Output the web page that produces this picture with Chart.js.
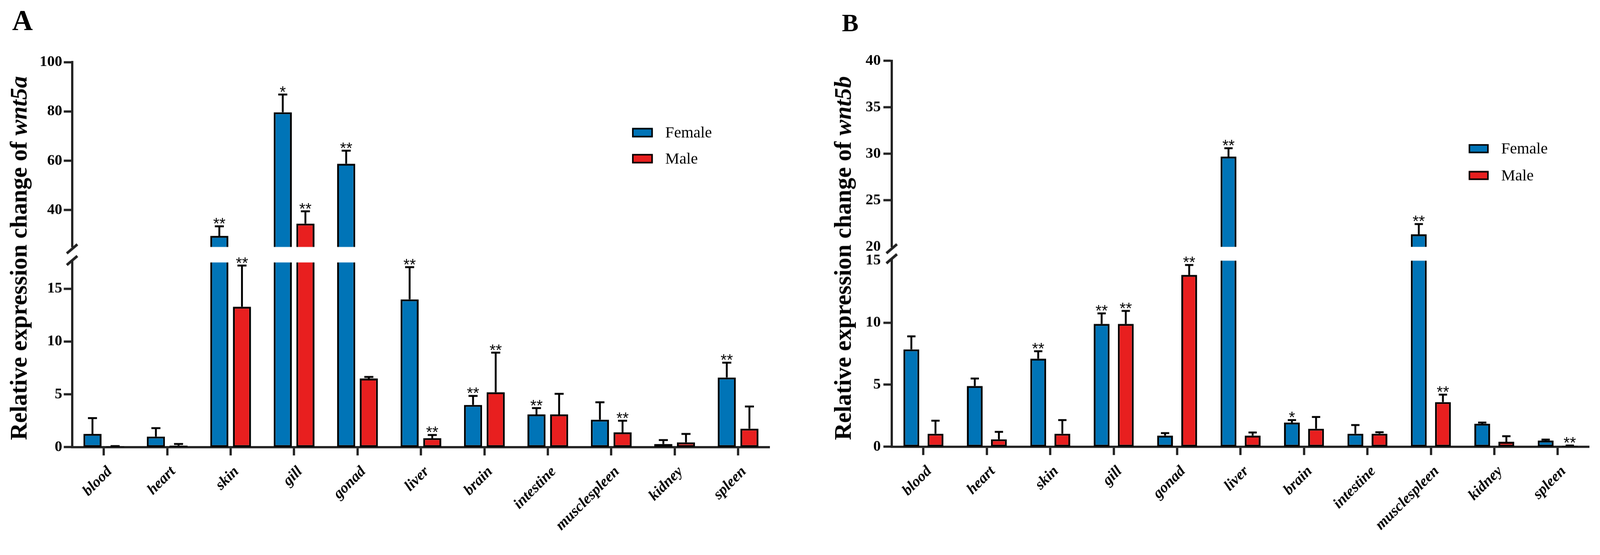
<!DOCTYPE html>
<html>
<head>
<meta charset="utf-8">
<script src="https://cdn.jsdelivr.net/npm/chart.js@4.4.1/dist/chart.umd.min.js"></script>
<style>
  html, body { margin: 0; padding: 0; background: #fff; overflow: hidden; }
  .panel { position: absolute; top: 0; }
</style>
</head>
<body>
<div class="panel" id="panelA"><canvas id="chartA" width="2120" height="1422"></canvas></div>
<div class="panel" id="panelB"><canvas id="chartB" width="2120" height="1422"></canvas></div>
<script>
const tissues = ['blood', 'heart', 'skin', 'gill', 'gonad', 'liver', 'brain', 'intestine', 'musclespleen', 'kidney', 'spleen'];
const seriesNames = ['Female', 'Male'];

// wnt5a (panel A)
const wnt5aFemale   = [1.25, 1.0, 29.5, 79.7, 58.8, 14.0, 4.0, 3.1, 2.6, 0.3, 6.6];
const wnt5aFemaleSd = [1.5, 0.8, 3.9, 7.2, 5.3, 3.05, 0.85, 0.6, 1.65, 0.37, 1.4];
const wnt5aMale     = [0.08, 0.15, 13.3, 34.5, 6.5, 0.85, 5.2, 3.1, 1.4, 0.45, 1.75];
const wnt5aMaleSd   = [0.02, 0.15, 3.9, 5.0, 0.15, 0.3, 3.75, 1.95, 1.1, 0.8, 2.1];
const wnt5aFemaleSig = ['', '', '**', '*', '**', '**', '**', '**', '', '', '**'];
const wnt5aMaleSig   = ['', '', '**', '**', '', '**', '**', '', '**', '', ''];

// wnt5b (panel B)
const wnt5bFemale   = [7.85, 4.9, 7.1, 9.9, 0.9, 29.7, 1.95, 1.05, 21.35, 1.85, 0.5];
const wnt5bFemaleSd = [1.05, 0.6, 0.6, 0.85, 0.2, 0.9, 0.2, 0.7, 1.1, 0.1, 0.08];
const wnt5bMale     = [1.05, 0.6, 1.05, 9.9, 13.85, 0.9, 1.45, 1.05, 3.6, 0.4, 0.08];
const wnt5bMaleSd   = [1.05, 0.6, 1.1, 1.05, 0.8, 0.25, 0.95, 0.12, 0.6, 0.45, 0.02];
const wnt5bFemaleSig = ['', '', '**', '**', '', '**', '*', '', '**', '', ''];
const wnt5bMaleSig   = ['', '', '', '**', '**', '', '', '', '**', '', '**'];

// broken y axes: lower / upper ranges and tick values
const wnt5aLowRange = [0, 17.5];
const wnt5aHighRange = [25, 100];
const wnt5aLowTicks = [0, 5, 10, 15];
const wnt5aHighTicks = [40, 60, 80, 100];
const wnt5bLowRange = [0, 15];
const wnt5bHighRange = [20, 40];
const wnt5bLowTicks = [0, 5, 10, 15];
const wnt5bHighTicks = [20, 25, 30, 35, 40];

const blue = '#0074B7';
const red = '#E81F1F';
const axisColor = '#222222';
const serif = "'Liberation Serif', 'Times New Roman', serif";
const sans = "'Liberation Sans', Arial, sans-serif";

// drawing is done in units of the 4240 x 1422 figure, scaled to the window
const figWidth = 4240;
const figHeight = 1422;
const scale = window.innerWidth / figWidth;

Chart.defaults.font.family = serif;

const panels = [
  {
    canvas: 'chartA', box: 'panelA', offset: 0, letter: 'A', gene: 'wnt5a',
    female: wnt5aFemale, femaleSd: wnt5aFemaleSd, femaleSig: wnt5aFemaleSig,
    male: wnt5aMale, maleSd: wnt5aMaleSd, maleSig: wnt5aMaleSig,
    lowRange: wnt5aLowRange, highRange: wnt5aHighRange,
    lowTicks: wnt5aLowTicks, highTicks: wnt5aHighTicks,
    pad: { left: 81, top: 165, right: 80, bottom: 0 }, xAxisHeight: 237,
    weights: [24, 2, 24], catPct: 0.714, barPct: 0.8, border: 5, cap: 24, tickPad: 4,
    titleX: 70, titleY: 684, letterX: 32, letterY: 80, letterSize: 76,
    legendX: 1675, legendY: 339, legendW: 55, legendH: 25, legendGap: 69, legendTextX: 1763
  },
  {
    canvas: 'chartB', box: 'panelB', offset: 2120, letter: 'B', gene: 'wnt5b',
    female: wnt5bFemale, femaleSd: wnt5bFemaleSd, femaleSig: wnt5bFemaleSig,
    male: wnt5bMale, maleSd: wnt5bMaleSd, maleSig: wnt5bMaleSig,
    lowRange: wnt5bLowRange, highRange: wnt5bHighRange,
    lowTicks: wnt5bLowTicks, highTicks: wnt5bHighTicks,
    pad: { left: 133, top: 161, right: 28, bottom: 0 }, xAxisHeight: 238,
    weights: [27, 2, 27], catPct: 0.761, barPct: 0.656, border: 5, cap: 22, tickPad: 7,
    titleX: 135, titleY: 684, letterX: 111, letterY: 83, letterSize: 66,
    legendX: 1772, legendY: 382, legendW: 53, legendH: 24, legendGap: 71, legendTextX: 1858
  }
];

function makeDecor(p) {
  return {
    id: 'decor',
    // keep each bar copy inside its own axis segment
    beforeDatasetDraw(chart, args) {
      const ys = args.meta.yScale;
      const ctx = chart.ctx;
      ctx.save();
      ctx.beginPath();
      ctx.rect(0, ys.top, chart.width, ys.bottom - ys.top + 4);
      ctx.clip();
    },
    afterDatasetDraw(chart) {
      chart.ctx.restore();
    },
    afterDraw(chart) {
      const ctx = chart.ctx;
      const yLow = chart.scales.yLow;
      const yHigh = chart.scales.yHigh;
      const left = chart.chartArea.left;

      // error bars (mean + SD) and significance marks
      const groups = [
        [p.female, p.femaleSd, p.femaleSig, 0, 2],
        [p.male, p.maleSd, p.maleSig, 1, 3]
      ];
      ctx.save();
      groups.forEach(([vals, sds, sigs, li, hi]) => {
        vals.forEach((v, i) => {
          const useHigh = v > p.lowRange[1];
          const ys = useHigh ? yHigh : yLow;
          const bar = chart.getDatasetMeta(useHigh ? hi : li).data[i];
          const x = bar.x;
          const yBar = ys.getPixelForValue(v);
          const yTop = ys.getPixelForValue(v + sds[i]);
          ctx.strokeStyle = '#000';
          ctx.lineWidth = 5;
          ctx.beginPath();
          ctx.moveTo(x, yBar);
          ctx.lineTo(x, yTop);
          ctx.stroke();
          ctx.beginPath();
          ctx.moveTo(x - p.cap / 2, yTop);
          ctx.lineTo(x + p.cap / 2, yTop);
          ctx.stroke();
          if (sigs[i]) {
            ctx.fillStyle = '#000';
            ctx.font = '42px ' + sans;
            ctx.textAlign = 'center';
            ctx.textBaseline = 'alphabetic';
            ctx.fillText(sigs[i], x, yTop + 7);
          }
        });
      });

      // axis break marks
      ctx.strokeStyle = axisColor;
      ctx.lineWidth = 7;
      [yHigh.bottom + 5, yLow.top - 5].forEach(y => {
        ctx.beginPath();
        ctx.moveTo(left - 14, y + 12);
        ctx.lineTo(left + 14, y - 12);
        ctx.stroke();
      });

      // legend
      ctx.font = '42px ' + serif;
      ctx.textAlign = 'left';
      ctx.textBaseline = 'middle';
      [0, 1].forEach(k => {
        const ds = chart.data.datasets[k];
        const y = p.legendY + k * p.legendGap;
        ctx.fillStyle = ds.backgroundColor;
        ctx.fillRect(p.legendX, y, p.legendW, p.legendH);
        ctx.lineWidth = 4;
        ctx.strokeStyle = '#000';
        ctx.strokeRect(p.legendX + 2, y + 2, p.legendW - 4, p.legendH - 4);
        ctx.fillStyle = '#000';
        ctx.fillText(ds.label, p.legendTextX, y + p.legendH / 2 + 2);
      });

      // y axis title, gene name in italics
      ctx.translate(p.titleX, p.titleY);
      ctx.rotate(-Math.PI / 2);
      const part1 = 'Relative expression change of ';
      const f1 = 'bold 63px ' + serif;
      const f2 = 'italic bold 63px ' + serif;
      ctx.font = f1;
      const w1 = ctx.measureText(part1).width;
      ctx.font = f2;
      const w2 = ctx.measureText(p.gene).width;
      const start = -(w1 + w2) / 2;
      ctx.textBaseline = 'alphabetic';
      ctx.fillStyle = '#000';
      ctx.font = f1;
      ctx.fillText(part1, start, 0);
      ctx.font = f2;
      ctx.fillText(p.gene, start + w1, 0);
      ctx.restore();

      // panel letter
      ctx.save();
      ctx.font = 'bold ' + p.letterSize + 'px ' + serif;
      ctx.fillStyle = '#000';
      ctx.textAlign = 'left';
      ctx.textBaseline = 'alphabetic';
      ctx.fillText(p.letter, p.letterX, p.letterY);
      ctx.restore();
    }
  };
}

function yScale(p, range, ticks, stackWeight, weight, isLow) {
  const edge = isLow ? range[1] : range[0];
  return {
    type: 'linear',
    position: 'left',
    stack: 'left',
    stackWeight: stackWeight,
    weight: weight,
    stacked: false,
    min: range[0],
    max: range[1],
    border: { display: true, color: axisColor, width: 6 },
    grid: {
      display: true,
      drawOnChartArea: false,
      drawTicks: true,
      tickLength: 22,
      tickWidth: 6,
      tickColor: (c) => (c.tick && c.tick.value === edge ? 'rgba(0,0,0,0)' : axisColor)
    },
    ticks: {
      color: '#000',
      padding: p.tickPad,
      font: { size: 40, weight: 'bold' },
      callback: (v) => String(v)
    },
    afterBuildTicks: (s) => { s.ticks = ticks.map(v => ({ value: v })); },
    afterFit: (s) => { s.width = 110; }
  };
}

function buildChart(p) {
  const box = document.getElementById(p.box);
  box.style.left = (p.offset * scale) + 'px';
  const canvas = document.getElementById(p.canvas);
  canvas.style.width = (2120 * scale) + 'px';
  canvas.style.height = (figHeight * scale) + 'px';

  const colors = [blue, red];
  const values = [p.female, p.male];
  const datasets = [];
  ['yLow', 'yHigh'].forEach(axisId => {
    [0, 1].forEach(k => {
      datasets.push({
        label: seriesNames[k],
        data: values[k],
        yAxisID: axisId,
        stack: 's' + k,
        backgroundColor: colors[k],
        borderColor: '#000',
        borderWidth: p.border,
        borderSkipped: false,
        categoryPercentage: p.catPct,
        barPercentage: p.barPct
      });
    });
  });

  return new Chart(canvas, {
    type: 'bar',
    data: { labels: tissues, datasets: datasets },
    options: {
      responsive: false,
      animation: false,
      devicePixelRatio: scale,
      layout: { padding: p.pad },
      plugins: {
        legend: { display: false },
        tooltip: { enabled: false },
        title: { display: false }
      },
      scales: {
        x: {
          type: 'category',
          position: 'bottom',
          offset: true,
          border: { display: true, color: axisColor, width: 6 },
          grid: {
            display: true,
            drawOnChartArea: false,
            drawTicks: true,
            offset: false,
            tickLength: 22,
            tickWidth: 6,
            tickColor: axisColor
          },
          ticks: {
            autoSkip: false,
            minRotation: 45,
            maxRotation: 45,
            color: '#000',
            padding: 20,
            labelOffset: 16,
            font: { size: 40, weight: 'bold', style: 'italic' }
          },
          afterFit: (s) => { s.height = p.xAxisHeight; }
        },
        yHigh: yScale(p, p.highRange, p.highTicks, p.weights[0], 3, false),
        yGap: {
          type: 'linear',
          position: 'left',
          stack: 'left',
          stackWeight: p.weights[1],
          weight: 2,
          min: 0,
          max: 1,
          border: { display: false },
          grid: { display: false },
          ticks: { display: false },
          afterFit: (s) => { s.width = 110; }
        },
        yLow: yScale(p, p.lowRange, p.lowTicks, p.weights[2], 1, true)
      }
    },
    plugins: [makeDecor(p)]
  });
}

window.onload = function() {
  panels.forEach(buildChart);
};
</script>
</body>
</html>
